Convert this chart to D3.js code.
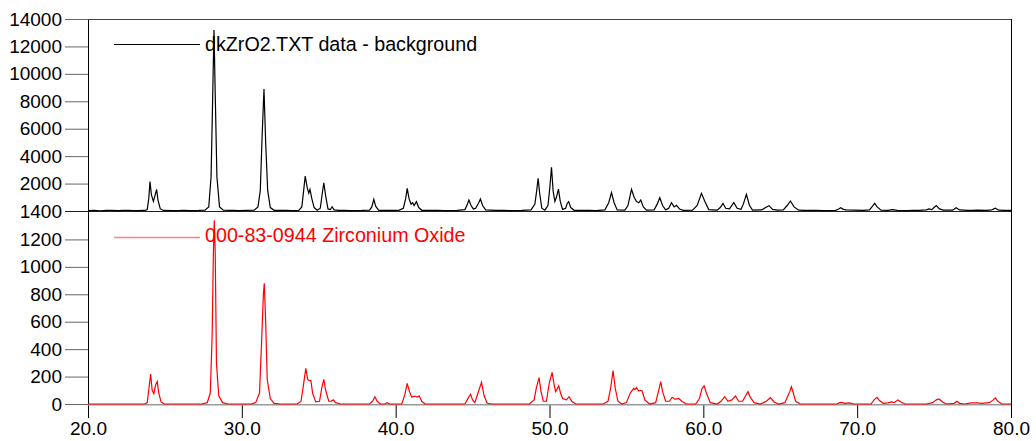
<!DOCTYPE html>
<html>
<head>
<meta charset="utf-8">
<script src="https://cdn.jsdelivr.net/npm/d3@7"></script>
<style>
  html, body { margin: 0; padding: 0; background: #fff; }
  svg { display: block; font-family: "Liberation Sans", Arial, sans-serif; }
</style>
</head>
<body>
<svg id="chart" width="1036" height="441"></svg>
<script>
// ---- Data (2θ, intensity) ----
const observedLabel = "dkZrO2.TXT data - background";
const referenceLabel = "000-83-0944 Zirconium Oxide";

const observed = [
  [20.0,30],[20.4,45],[20.8,20],[21.2,50],[21.5,40],[22.0,30],[22.3,55],[22.6,50],[23.0,35],[23.2,30],[23.7,40],
  [23.85,100],[23.95,900],[24.03,2140],[24.12,1200],[24.25,700],[24.35,1100],[24.46,1580],[24.55,800],[24.7,150],[24.9,40],
  [25.5,30],[26.0,40],[26.3,55],[26.6,30],[27.2,40],[27.6,60],[27.85,300],[28.0,2500],[28.1,8000],[28.19,13200],[28.28,8000],[28.38,2500],[28.55,300],[28.8,60],
  [29.2,40],[29.5,55],[29.8,30],[30.3,40],[30.8,60],[31.05,300],[31.2,1500],[31.32,5500],[31.44,8900],[31.55,5000],[31.68,1500],[31.85,250],[32.1,50],
  [32.6,40],[32.9,55],[33.2,30],[33.7,50],[33.9,300],[34.02,1500],[34.12,2550],[34.25,1700],[34.35,1300],[34.43,1580],[34.55,900],[34.7,250],[34.9,60],
  [35.1,200],[35.22,1200],[35.33,2060],[35.45,1100],[35.6,150],[35.75,100],[35.87,310],[36.0,80],[36.3,40],[36.7,55],[37.0,30],[37.8,40],
  [38.3,60],[38.45,300],[38.58,850],[38.7,350],[38.9,50],[39.5,40],[39.9,55],[40.2,50],[40.5,200],[40.65,900],[40.75,1650],[40.87,900],
  [41.0,500],[41.1,600],[41.2,400],[41.35,680],[41.5,250],[41.7,50],[42.3,40],[42.7,55],[43.2,30],[44.0,40],
  [44.5,100],[44.65,450],[44.76,800],[44.9,400],[45.05,150],[45.2,200],[45.4,600],[45.51,875],[45.65,400],[45.85,80],
  [46.5,40],[47.0,55],[47.4,30],[48.2,40],[48.8,80],[49.05,500],[49.17,1500],[49.26,2385],[49.36,1300],[49.5,200],[49.7,60],
  [49.9,400],[50.02,1700],[50.13,3190],[50.24,1400],[50.35,700],[50.45,1000],[50.58,1600],[50.7,700],[50.85,120],
  [51.05,200],[51.15,550],[51.25,680],[51.38,250],[51.6,50],[52.2,40],[52.6,55],[53.0,30],[53.6,80],[53.85,600],[54.03,1340],[54.2,600],[54.4,80],
  [54.9,60],[55.1,400],[55.33,1580],[55.5,1000],[55.65,700],[55.8,600],[55.93,800],[56.1,300],[56.3,60],
  [56.8,80],[57.0,500],[57.17,970],[57.35,400],[57.55,80],[57.75,200],[57.93,605],[58.1,300],[58.25,415],[58.45,150],[58.7,50],
  [59.3,60],[59.6,400],[59.88,1290],[60.1,700],[60.35,100],[60.9,60],[61.1,250],[61.28,560],[61.45,200],[61.7,150],[61.98,605],[62.2,200],
  [62.45,120],[62.6,500],[62.8,1215],[63.0,400],[63.2,60],[63.8,80],[64.05,250],[64.27,390],[64.5,120],[64.8,60],
  [65.2,80],[65.45,400],[65.66,730],[65.9,300],[66.2,60],[66.6,45],[67.0,40],[67.4,55],[67.8,30],[68.6,50],[68.8,150],[68.93,240],[69.1,120],[69.3,80],
  [69.8,60],[70.4,40],[70.8,80],[71.0,350],[71.14,560],[71.3,300],[71.55,60],[72.0,50],[72.3,100],[72.6,40],[73.3,30],[73.6,45],
  [74.0,40],[74.5,80],[74.66,150],[74.85,100],[75.0,250],[75.14,390],[75.35,150],[75.6,60],[76.2,60],[76.44,240],[76.65,80],
  [77.2,50],[77.5,45],[77.8,60],[78.4,40],[78.75,80],[78.98,200],[79.2,60],[79.6,45],[80.0,40]
];

const reference = [
  [20.0,0],[23.7,0],[23.85,10],[23.97,120],[24.07,219],[24.17,100],[24.28,75],[24.4,140],[24.5,163],[24.6,80],[24.75,15],[24.95,0],
  [27.4,0],[27.75,10],[27.95,80],[28.07,500],[28.15,1100],[28.21,1340],[28.27,1100],[28.35,300],[28.5,60],[28.75,10],[29.1,0],
  [30.6,0],[30.9,10],[31.15,80],[31.3,500],[31.4,800],[31.46,880],[31.55,600],[31.65,180],[31.85,40],[32.1,5],[32.5,0],
  [33.6,0],[33.85,20],[34.02,150],[34.16,260],[34.28,180],[34.38,170],[34.49,170],[34.6,80],[34.8,15],
  [35.05,20],[35.2,120],[35.33,180],[35.45,100],[35.65,20],[35.8,20],[35.94,30],[36.1,10],[36.4,0],
  [38.3,0],[38.5,20],[38.65,53],[38.8,20],[39.0,0],[39.3,0],[39.45,10],[39.6,0],
  [40.4,0],[40.6,70],[40.75,150],[40.9,90],[41.05,50],[41.15,55],[41.25,58],[41.38,50],[41.53,58],[41.7,20],[41.9,0],
  [44.5,0],[44.75,50],[44.87,70],[45.0,30],[45.15,10],[45.35,80],[45.58,158],[45.75,60],[45.95,5],[46.3,0],
  [48.7,0],[49.0,30],[49.15,120],[49.32,192],[49.45,90],[49.6,20],[49.8,20],[49.98,150],[50.17,231],[50.3,140],[50.4,90],
  [50.5,110],[50.6,133],[50.72,80],[50.85,40],[51.1,30],[51.27,53],[51.45,20],[51.7,0],
  [53.5,0],[53.8,20],[53.98,120],[54.13,243],[54.28,110],[54.45,20],[54.7,0],
  [55.0,10],[55.25,80],[55.47,114],[55.55,105],[55.65,120],[55.8,95],[55.9,100],[56.02,95],[56.2,30],[56.5,0],
  [56.9,10],[57.1,100],[57.23,163],[57.35,90],[57.55,20],[57.8,20],[57.97,49],[58.15,35],[58.3,38],[58.4,40],[58.6,20],[58.9,0],
  [59.5,0],[59.75,40],[59.9,110],[60.05,133],[60.2,80],[60.45,10],[60.9,0],[61.15,20],[61.39,53],[61.6,20],[61.85,30],[62.09,58],[62.3,20],
  [62.55,20],[62.75,60],[62.9,90],[63.05,50],[63.3,10],[63.7,0],[64.1,20],[64.36,46],[64.6,15],[64.9,0],
  [65.3,10],[65.5,60],[65.62,90],[65.72,126],[65.85,80],[66.0,20],[66.3,0],
  [68.7,0],[68.85,10],[68.97,12],[69.2,5],[69.5,8],[69.8,0],[70.9,0],[71.1,30],[71.29,49],[71.45,25],[71.7,5],[72.0,8],[72.22,15],[72.4,10],
  [72.65,30],[72.85,15],[73.1,0],[74.5,0],[74.9,10],[75.15,30],[75.32,37],[75.55,15],[75.8,0],[76.3,5],[76.49,20],[76.65,5],[77.0,0],
  [77.4,8],[77.8,8],[78.1,5],[78.6,10],[78.85,30],[78.98,44],[79.15,20],[79.4,0],[80.0,0]
];

const xTicks = [20, 30, 40, 50, 60, 70, 80];
const topTicks = [0, 2000, 4000, 6000, 8000, 10000, 12000, 14000];
const topTickLabels = ["1400", "2000", "4000", "6000", "8000", "10000", "12000", "14000"];
const bottomTicks = [0, 200, 400, 600, 800, 1000, 1200];

// ---- Layout ----
const svg = d3.select("#chart");
const x = d3.scaleLinear().domain([20, 80]).range([88, 1011]);
const yTop = d3.scaleLinear().domain([0, 14000]).range([211, 19]);
const yBot = d3.scaleLinear().domain([0, 1400]).range([404, 212]);
const fontSize = 19;
const legendFont = 19.7;

// Left axes
const topAxis = d3.axisLeft(yTop).tickValues(topTicks)
  .tickFormat((d, i) => topTickLabels[i]).tickSize(23).tickPadding(3);
const gTop = svg.append("g").attr("transform", "translate(88,0)").call(topAxis);
const botAxis = d3.axisLeft(yBot).tickValues(bottomTicks).tickFormat(d3.format("d"))
  .tickSize(23).tickPadding(3);
const gBot = svg.append("g").attr("transform", "translate(88,0)").call(botAxis);
[gTop, gBot].forEach(g => {
  g.select(".domain").remove();
  g.selectAll(".tick line").attr("stroke", "#666");
  g.selectAll(".tick text").attr("font-size", fontSize).attr("fill", "#000")
    .attr("font-family", "Liberation Sans, Arial, sans-serif");
});

// Bottom x axis
const xAxis = d3.axisBottom(x).tickValues(xTicks).tickFormat(d3.format(".1f"))
  .tickSize(14).tickPadding(4);
const gX = svg.append("g").attr("transform", "translate(0,404)").call(xAxis);
gX.select(".domain").remove();
gX.selectAll(".tick line").attr("stroke", "#000");
gX.selectAll(".tick text").attr("font-size", fontSize).attr("fill", "#000")
  .attr("font-family", "Liberation Sans, Arial, sans-serif");

// Frame lines
svg.append("line").attr("x1", 88.5).attr("x2", 88.5).attr("y1", yTop(14000)).attr("y2", 404)
  .attr("stroke", "#000");
svg.append("line").attr("x1", 1011.5).attr("x2", 1011.5).attr("y1", yTop(14000)).attr("y2", 418)
  .attr("stroke", "#000");
svg.append("line").attr("x1", 88).attr("x2", 1011).attr("y1", yTop(14000) + 0.5).attr("y2", yTop(14000) + 0.5)
  .attr("stroke", "#444");
svg.append("line").attr("x1", 65).attr("x2", 1011).attr("y1", yTop(0) + 0.5).attr("y2", yTop(0) + 0.5)
  .attr("stroke", "#222");
svg.append("line").attr("x1", 88).attr("x2", 1011).attr("y1", yBot(0) + 0.8).attr("y2", yBot(0) + 0.8)
  .attr("stroke", "#999").attr("stroke-width", 1.6);

// Series
const lineTop = d3.line().x(d => x(d[0])).y(d => yTop(d[1]));
const lineBot = d3.line().x(d => x(d[0])).y(d => yBot(d[1]));
svg.append("path").datum(observed).attr("d", lineTop)
  .attr("fill", "none").attr("stroke", "#000").attr("stroke-width", 1.2);
svg.append("path").datum(reference).attr("d", lineBot)
  .attr("fill", "none").attr("stroke", "#ff0000").attr("stroke-width", 1.2);

// Legends
svg.append("line").attr("x1", 114).attr("x2", 200).attr("y1", 44.5).attr("y2", 44.5)
  .attr("stroke", "#000");
svg.append("text").attr("x", 205).attr("y", 51).attr("font-size", legendFont)
  .attr("fill", "#000").text(observedLabel);
svg.append("line").attr("x1", 114).attr("x2", 200).attr("y1", 237.5).attr("y2", 237.5)
  .attr("stroke", "#ff8080").attr("stroke-width", 1.5);
svg.append("text").attr("x", 205).attr("y", 242).attr("font-size", legendFont)
  .attr("fill", "#ff0000").text(referenceLabel);
</script>
</body>
</html>
